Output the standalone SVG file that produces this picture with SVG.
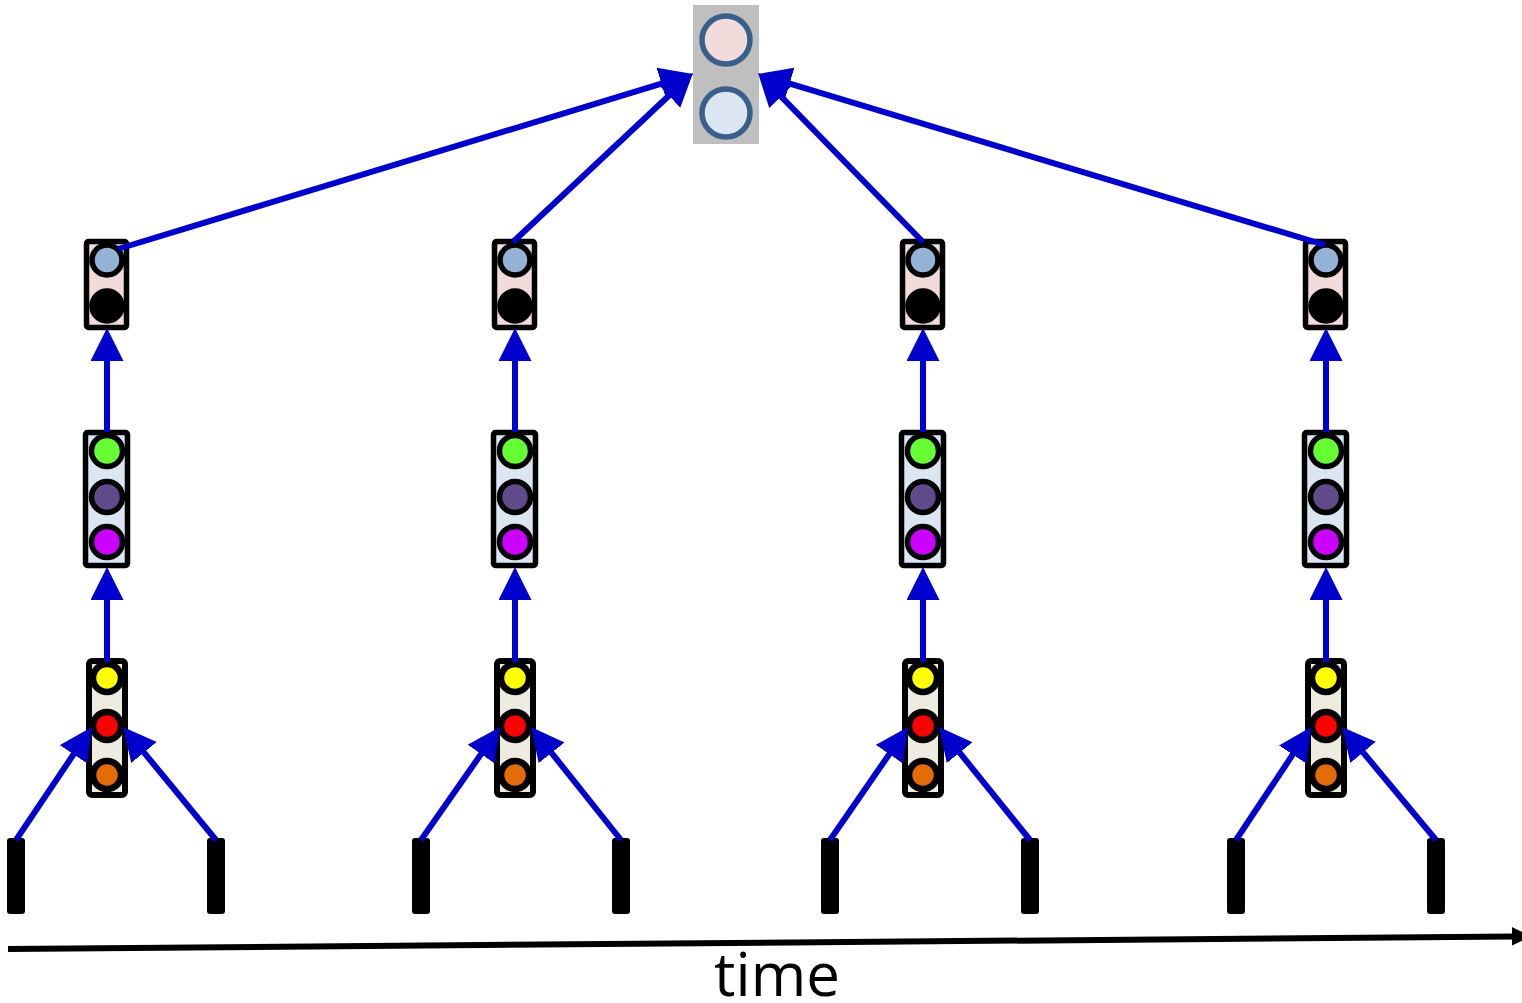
<svg xmlns="http://www.w3.org/2000/svg" width="1522" height="1003" viewBox="0 0 1522 1003">
<defs>
<style>
.edge{stroke:#0000cc;stroke-width:6;fill:none;marker-end:url(#ah)}
.bar{fill:#000}
.l3{fill:#f2dcdb;stroke:#000;stroke-width:5.5}
.l2{fill:#dce6f2;stroke:#000;stroke-width:5.5}
.l1{fill:#eeece1;stroke:#000;stroke-width:6}
.c{stroke:#000;stroke-width:5.5}
.c1{stroke:#000;stroke-width:6.5}
</style>
<marker id="ah" markerUnits="userSpaceOnUse" markerWidth="34" markerHeight="34" refX="25" refY="16.5" orient="auto">
<path d="M0,0 L33,16.5 L0,33 z" fill="#0000cc"/>
</marker>
</defs>
<rect width="1522" height="1003" fill="#fff"/>

<g id="root">
<rect x="693" y="5" width="66" height="139" fill="#bfbfbf"/>
<circle cx="726" cy="40" r="24" fill="#f2dcdb" stroke="#3a5f8b" stroke-width="5.5"/>
<circle cx="726" cy="113" r="24" fill="#dce6f2" stroke="#3a5f8b" stroke-width="5.5"/>
</g>

<g id="col1">
<g id="c1-l3"><rect class="l3" x="86.5" y="241.5" width="40" height="86" rx="2"/><circle class="c" cx="107" cy="260" r="15" fill="#95b3d7"/><circle class="c" cx="107" cy="306" r="15" fill="#000"/></g>
<g id="c1-l2"><rect class="l2" x="85.5" y="432.5" width="42" height="133" rx="2"/><circle class="c" cx="107" cy="451" r="15.5" fill="#66ff33"/><circle class="c" cx="107" cy="497" r="15.5" fill="#5f4b8b"/><circle class="c" cx="107" cy="542" r="15.5" fill="#cc00ff"/></g>
<g id="c1-l1"><rect class="l1" x="89" y="661" width="36" height="134" rx="3"/><circle class="c1" cx="107" cy="678" r="14" fill="#ffff00"/><circle class="c1" cx="107" cy="726" r="14" fill="#ff0000"/><circle class="c1" cx="107" cy="775" r="14" fill="#e36c09"/></g>
<g id="c1-b1"><rect class="bar" x="7" y="838" width="18" height="76" rx="3"/></g>
<g id="c1-b2"><rect class="bar" x="207" y="838" width="18" height="76" rx="3"/></g>
</g>

<g id="col2">
<g id="c2-l3"><rect class="l3" x="494.5" y="241.5" width="40" height="86" rx="2"/><circle class="c" cx="515" cy="260" r="15" fill="#95b3d7"/><circle class="c" cx="515" cy="306" r="15" fill="#000"/></g>
<g id="c2-l2"><rect class="l2" x="493.5" y="432.5" width="42" height="133" rx="2"/><circle class="c" cx="515" cy="451" r="15.5" fill="#66ff33"/><circle class="c" cx="515" cy="497" r="15.5" fill="#5f4b8b"/><circle class="c" cx="515" cy="542" r="15.5" fill="#cc00ff"/></g>
<g id="c2-l1"><rect class="l1" x="497" y="661" width="36" height="134" rx="3"/><circle class="c1" cx="515" cy="678" r="14" fill="#ffff00"/><circle class="c1" cx="515" cy="726" r="14" fill="#ff0000"/><circle class="c1" cx="515" cy="775" r="14" fill="#e36c09"/></g>
<g id="c2-b1"><rect class="bar" x="412" y="838" width="18" height="76" rx="3"/></g>
<g id="c2-b2"><rect class="bar" x="612" y="838" width="18" height="76" rx="3"/></g>
</g>

<g id="col3">
<g id="c3-l3"><rect class="l3" x="902.5" y="241.5" width="40" height="86" rx="2"/><circle class="c" cx="923" cy="260" r="15" fill="#95b3d7"/><circle class="c" cx="923" cy="306" r="15" fill="#000"/></g>
<g id="c3-l2"><rect class="l2" x="901.5" y="432.5" width="42" height="133" rx="2"/><circle class="c" cx="923" cy="451" r="15.5" fill="#66ff33"/><circle class="c" cx="923" cy="497" r="15.5" fill="#5f4b8b"/><circle class="c" cx="923" cy="542" r="15.5" fill="#cc00ff"/></g>
<g id="c3-l1"><rect class="l1" x="905" y="661" width="36" height="134" rx="3"/><circle class="c1" cx="923" cy="678" r="14" fill="#ffff00"/><circle class="c1" cx="923" cy="726" r="14" fill="#ff0000"/><circle class="c1" cx="923" cy="775" r="14" fill="#e36c09"/></g>
<g id="c3-b1"><rect class="bar" x="821" y="838" width="18" height="76" rx="3"/></g>
<g id="c3-b2"><rect class="bar" x="1021" y="838" width="18" height="76" rx="3"/></g>
</g>

<g id="col4">
<g id="c4-l3"><rect class="l3" x="1305.5" y="241.5" width="40" height="86" rx="2"/><circle class="c" cx="1326" cy="260" r="15" fill="#95b3d7"/><circle class="c" cx="1326" cy="306" r="15" fill="#000"/></g>
<g id="c4-l2"><rect class="l2" x="1304.5" y="432.5" width="42" height="133" rx="2"/><circle class="c" cx="1326" cy="451" r="15.5" fill="#66ff33"/><circle class="c" cx="1326" cy="497" r="15.5" fill="#5f4b8b"/><circle class="c" cx="1326" cy="542" r="15.5" fill="#cc00ff"/></g>
<g id="c4-l1"><rect class="l1" x="1308" y="661" width="36" height="134" rx="3"/><circle class="c1" cx="1326" cy="678" r="14" fill="#ffff00"/><circle class="c1" cx="1326" cy="726" r="14" fill="#ff0000"/><circle class="c1" cx="1326" cy="775" r="14" fill="#e36c09"/></g>
<g id="c4-b1"><rect class="bar" x="1227" y="838" width="18" height="76" rx="3"/></g>
<g id="c4-b2"><rect class="bar" x="1427" y="838" width="18" height="76" rx="3"/></g>
</g>

<g id="connectors">
<line class="edge" x1="16" y1="840" x2="87.5" y2="733.6"/>
<line class="edge" x1="216" y1="840" x2="128.1" y2="733.2"/>
<line class="edge" x1="421" y1="840" x2="495.4" y2="733.6"/>
<line class="edge" x1="621" y1="840" x2="536" y2="733.3"/>
<line class="edge" x1="830" y1="840" x2="903.5" y2="733.6"/>
<line class="edge" x1="1030" y1="840" x2="944" y2="733.2"/>
<line class="edge" x1="1236" y1="840" x2="1306.6" y2="733.7"/>
<line class="edge" x1="1436" y1="840" x2="1347.1" y2="733.2"/>

<line class="edge" x1="107" y1="662" x2="107" y2="575"/>
<line class="edge" x1="515" y1="662" x2="515" y2="575"/>
<line class="edge" x1="923" y1="662" x2="923" y2="575"/>
<line class="edge" x1="1326" y1="662" x2="1326" y2="575"/>

<line class="edge" x1="107" y1="432" x2="107" y2="336"/>
<line class="edge" x1="515" y1="432" x2="515" y2="336"/>
<line class="edge" x1="923" y1="432" x2="923" y2="336"/>
<line class="edge" x1="1326" y1="432" x2="1326" y2="336"/>

<line class="edge" x1="118" y1="249" x2="685.3" y2="76.3"/>
<line class="edge" x1="513" y1="242" x2="687.2" y2="78.5"/>
<line class="edge" x1="923" y1="242" x2="763.6" y2="78.7"/>
<line class="edge" x1="1325" y1="245" x2="765.7" y2="76.3"/>
</g>

<g id="time-axis">
<line x1="8" y1="949" x2="1514" y2="936.5" stroke="#000" stroke-width="6"/>
<polygon points="1512,927 1531,936.3 1512,945.5" fill="#000"/>
<text x="777" y="996" font-family="'Open Sans', 'Liberation Sans', sans-serif" font-size="60" text-anchor="middle" fill="#000">time</text>
</g>
</svg>
